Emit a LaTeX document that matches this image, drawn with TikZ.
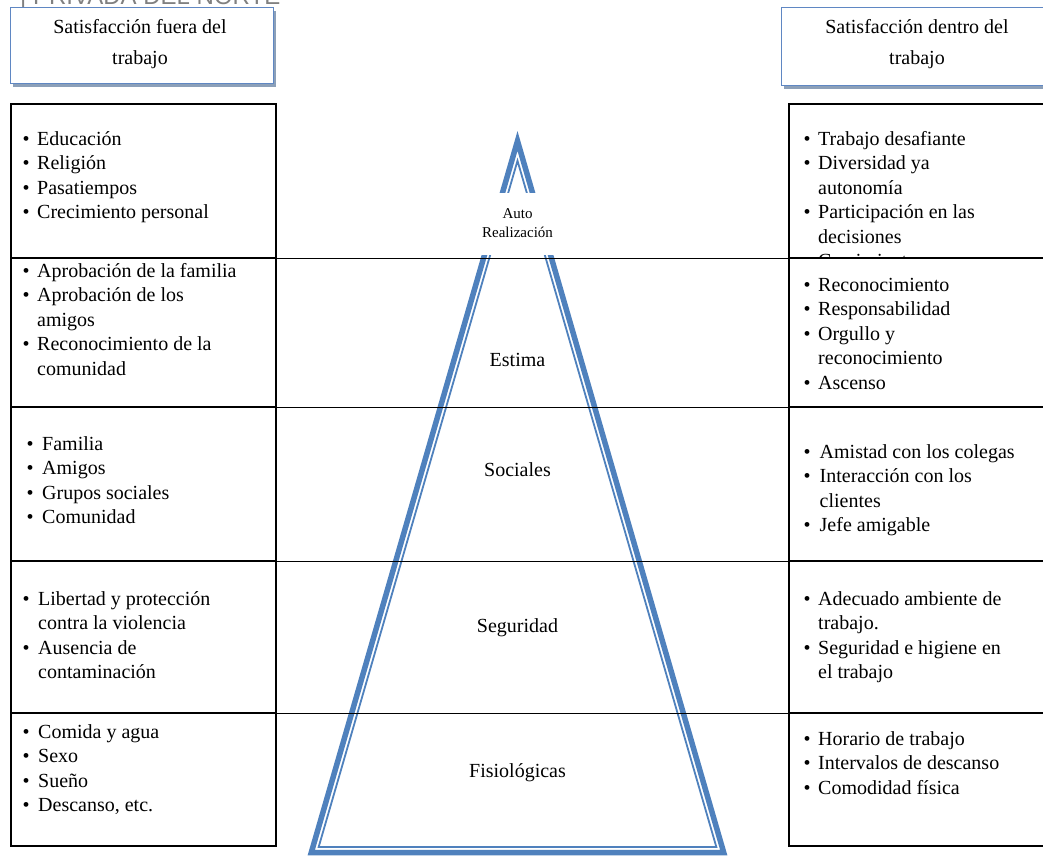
\documentclass[tikz,border=0pt]{standalone}
\usepackage{fontspec}
\setmainfont{Liberation Serif}
\newfontfamily\hdrsans{Liberation Sans}
\usetikzlibrary{shadows}
\definecolor{pyrblue}{RGB}{79,129,189}
\definecolor{hdrblue}{RGB}{95,135,195}
\definecolor{shadowc}{RGB}{140,160,185}
\definecolor{topgray}{RGB}{128,128,128}
\newcommand{\bul}{\textbullet}
\begin{document}
\begin{tikzpicture}[x=1pt,y=-1pt,
  cellbox/.style={draw=black,line width=1.6pt,fill=white,inner sep=0pt,anchor=north west},
  hdrbox/.style={draw=hdrblue,line width=1.2pt,fill=white,inner sep=0pt,anchor=north west,
     drop shadow={shadow xshift=2.5pt,shadow yshift=-3pt,fill=shadowc,opacity=1}},
  items/.style={inner sep=0pt,anchor=base west,font=\fontsize{20}{24.5}\selectfont},
  lvl/.style={inner sep=0pt,anchor=base,font=\fontsize{20}{24}\selectfont},
  hdrtxt/.style={inner sep=0pt,anchor=base,font=\fontsize{20}{31}\selectfont},
  sepline/.style={draw=black,line width=1.6pt},
  thickpyr/.style={draw=pyrblue,line width=5.5pt,line join=miter},
  thinpyr/.style={draw=pyrblue,line width=1.8pt,line join=miter}]
\useasboundingbox (0,0) rectangle (1043,856);
\clip (0,0) rectangle (1043,856);
\fill[white] (0,0) rectangle (1043,856);

% top cut-off title
\node[inner sep=0pt,anchor=base west,text=topgray,font=\hdrsans\fontsize{24}{24}\selectfont] (ttl) at (20,4.5) {| PRIVADA DEL NORTE};

% header boxes
\node[hdrbox,minimum width=263pt,minimum height=76pt] (hl) at (10,7) {};
\node[hdrbox,minimum width=280pt,minimum height=78pt] (hr) at (781,7) {};
\node[hdrtxt] (hlt) at (140,34) {\begin{tabular}[t]{@{}c@{}}Satisfacción fuera del\\trabajo\end{tabular}};
\node[hdrtxt] (hrt) at (917,34) {\begin{tabular}[t]{@{}c@{}}Satisfacción dentro del\\trabajo\end{tabular}};

% cell boxes
\node[cellbox,minimum width=265pt,minimum height=154pt] (l1) at (10,103) {};
\node[cellbox,minimum width=265pt,minimum height=149pt] (l2) at (10,257) {};
\node[cellbox,minimum width=265pt,minimum height=154pt] (l3) at (10,406) {};
\node[cellbox,minimum width=265pt,minimum height=152pt] (l4) at (10,560) {};
\node[cellbox,minimum width=265pt,minimum height=133pt] (l5) at (10,712) {};
\node[cellbox,minimum width=280pt,minimum height=154pt] (r1) at (788,103) {};
\node[cellbox,minimum width=280pt,minimum height=149pt] (r2) at (788,257) {};
\node[cellbox,minimum width=280pt,minimum height=154pt] (r3) at (788,406) {};
\node[cellbox,minimum width=280pt,minimum height=152pt] (r4) at (788,560) {};
\node[cellbox,minimum width=280pt,minimum height=133pt] (r5) at (788,712) {};

% pyramid
\coordinate (pa) at (517.5,141);
\coordinate (pb) at (311.3,852.5);
\coordinate (pc) at (723.7,852.5);
\coordinate (qa) at (517.5,160.75);
\coordinate (qb) at (318.65,847);
\coordinate (qc) at (716.35,847);
\draw[thickpyr] (pa) -- (pb) -- (pc) -- cycle;
\draw[thinpyr] (qa) -- (qb) -- (qc) -- cycle;

% separators across
\draw[sepline] (l1.south east) -- (r1.south west);
\draw[sepline] (l2.south east) -- (r2.south west);
\draw[sepline] (l3.south east) -- (r3.south west);
\draw[sepline] (l4.south east) -- (r4.south west);

% level labels
\node[fill=white,inner sep=0pt,minimum width=100pt,minimum height=62pt,align=center,
      font=\fontsize{15}{19}\selectfont] (auto) at (517.5,223.5) {Auto\\Realización};
\node[lvl] (estima) at (517.5,366) {Estima};
\node[lvl] (soc) at (517.5,476) {Sociales};
\node[lvl] (seg) at (517.5,632) {Seguridad};
\node[lvl] (fis) at (517.5,777) {Fisiológicas};

% left texts
\node[items] (tl1) at (22.5,145) {\begin{tabular}[t]{@{}l@{\hspace{7.5pt}}l@{}}
\bul & Educación\\ \bul & Religión\\ \bul & Pasatiempos\\ \bul & Crecimiento personal\end{tabular}};
\node[items] (tl2) at (22.5,277) {\begin{tabular}[t]{@{}l@{\hspace{7.5pt}}l@{}}
\bul & Aprobación de la familia\\ \bul & Aprobación de los\\ & amigos\\ \bul & Reconocimiento de la\\ & comunidad\end{tabular}};
\node[items] (tl3) at (26.5,450) {\begin{tabular}[t]{@{}l@{\hspace{8.5pt}}l@{}}
\bul & Familia\\ \bul & Amigos\\ \bul & Grupos sociales\\ \bul & Comunidad\end{tabular}};
\node[items] (tl4) at (22.5,605) {\begin{tabular}[t]{@{}l@{\hspace{8.5pt}}l@{}}
\bul & Libertad y protección\\ & contra la violencia\\ \bul & Ausencia de\\ & contaminación\end{tabular}};
\node[items] (tl5) at (22.5,738) {\begin{tabular}[t]{@{}l@{\hspace{8.5pt}}l@{}}
\bul & Comida y agua\\ \bul & Sexo\\ \bul & Sueño\\ \bul & Descanso, etc.\end{tabular}};

% right texts
\begin{scope}
\clip (r1.north west) rectangle (r1.south east);
\node[items] (tr1) at (803.5,145) {\begin{tabular}[t]{@{}l@{\hspace{7.5pt}}l@{}}
\bul & Trabajo desafiante\\ \bul & Diversidad ya\\ & autonomía\\ \bul & Participación en las\\ & decisiones\\ \bul & Crecimiento\end{tabular}};
\end{scope}
\node[items] (tr2) at (803.5,291) {\begin{tabular}[t]{@{}l@{\hspace{7.5pt}}l@{}}
\bul & Reconocimiento\\ \bul & Responsabilidad\\ \bul & Orgullo y\\ & reconocimiento\\ \bul & Ascenso\end{tabular}};
\node[items] (tr3) at (803.5,458) {\begin{tabular}[t]{@{}l@{\hspace{9pt}}l@{}}
\bul & Amistad con los colegas\\ \bul & Interacción con los\\ & clientes\\ \bul & Jefe amigable\end{tabular}};
\node[items] (tr4) at (803.5,605) {\begin{tabular}[t]{@{}l@{\hspace{7.5pt}}l@{}}
\bul & Adecuado ambiente de\\ & trabajo.\\ \bul & Seguridad e higiene en\\ & el trabajo\end{tabular}};
\node[items] (tr5) at (803.5,745) {\begin{tabular}[t]{@{}l@{\hspace{7.5pt}}l@{}}
\bul & Horario de trabajo\\ \bul & Intervalos de descanso\\ \bul & Comodidad física\end{tabular}};
\end{tikzpicture}
\end{document}
